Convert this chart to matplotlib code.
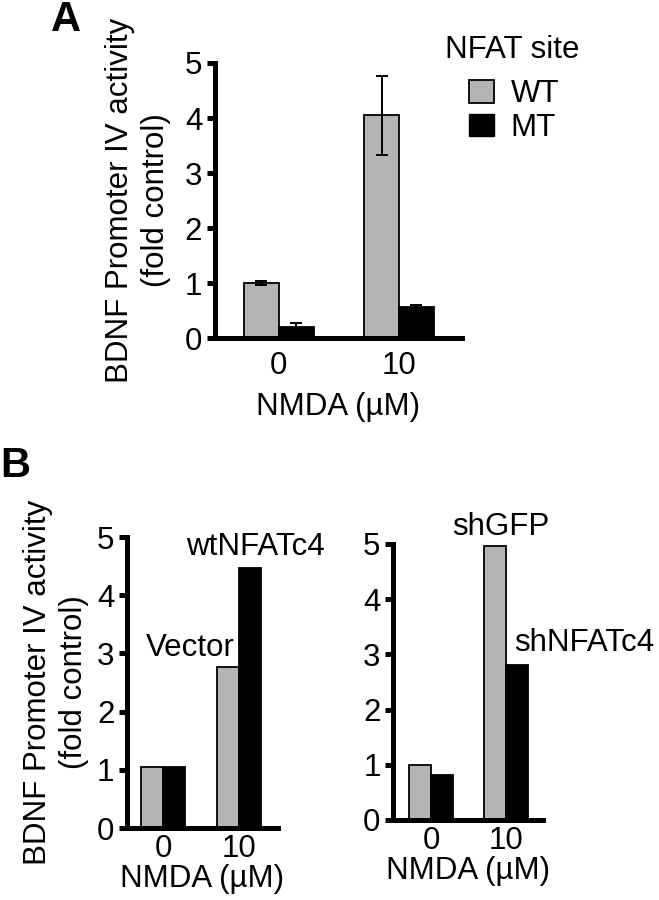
import numpy as np
import matplotlib
matplotlib.use("Agg")
import matplotlib.pyplot as plt
from matplotlib.patches import Patch

plt.rcParams['font.family'] = ['Liberation Sans', 'DejaVu Sans']

# panel A data
groups = ["0", "10"]
wt_vals = [1.0, 4.05]
wt_err = [0.04, 0.72]
mt_vals = [0.20, 0.56]
mt_err = [0.07, 0.04]

# panel B left
vector_vals = [1.05, 2.77]
wtnfat_vals = [1.04, 4.47]

# panel B right
shgfp_vals = [1.0, 4.97]
shnfat_vals = [0.82, 2.81]

GRAY = "#b4b4b4"
FS = 22.5
W = 0.29


def style_axes(ax, pad_x):
    for s in ["top", "right"]:
        ax.spines[s].set_visible(False)
    for s in ["left", "bottom"]:
        ax.spines[s].set_linewidth(3.6)
    ax.tick_params(axis="y", direction="out", length=6, width=3.6, labelsize=FS, pad=3)
    ax.tick_params(axis="x", length=0, labelsize=FS, pad=pad_x)
    ax.set_ylim(0, 5)
    ax.set_yticks([0, 1, 2, 3, 4, 5])


def pair_bars(ax, a, b, ea=None, eb=None):
    x = np.arange(len(groups))
    ekw = dict(ecolor="black", elinewidth=1.4, capsize=4, capthick=1.4)
    ax.bar(x - W / 2, a, W, color=GRAY, edgecolor="black", linewidth=1.3,
           yerr=ea, error_kw=ekw, zorder=2)
    ax.bar(x + W / 2, b, W, color="black", edgecolor="black", linewidth=1.3,
           yerr=eb, error_kw=ekw, zorder=2)
    ax.set_xticks(x)
    ax.set_xticklabels(groups)


fig = plt.figure(figsize=(6.59, 9), dpi=100)

# ---- A ----
axA = fig.add_axes([0.326, 0.6244, 0.375, 0.3056])
pair_bars(axA, wt_vals, mt_vals, wt_err, mt_err)
style_axes(axA, 9)
axA.set_xlim(-0.533, 1.525)
axA.set_xlabel("NMDA (\u00b5M)", fontsize=FS, labelpad=8)
axA.set_ylabel("BDNF Promoter IV activity\n(fold control)", fontsize=FS,
               labelpad=10, linespacing=1.25)

# legend (title drawn separately so the gap matches)
fig.text(0.777, 0.944, "NFAT site", fontsize=FS, ha="center", va="center")
handles = [Patch(facecolor=GRAY, edgecolor="black", linewidth=1.3, label="WT"),
           Patch(facecolor="black", edgecolor="black", label="MT")]
fig.legend(handles=handles, loc="upper left", bbox_to_anchor=(0.711, 0.912),
           frameon=False, fontsize=FS, handlelength=0.8, handleheight=0.75,
           handletextpad=0.55, labelspacing=0.12, borderaxespad=0, borderpad=0)
fig.text(0.078, 1 - 31 / 900, "A", fontsize=30, fontweight="bold",
         va="baseline", ha="left")

# ---- B left ----
axB1 = fig.add_axes([0.1927, 0.08, 0.229, 0.3233])
pair_bars(axB1, vector_vals, wtnfat_vals)
style_axes(axB1, 4)
axB1.set_xlim(-0.474, 1.513)
axB1.set_xlabel("NMDA (\u00b5M)", fontsize=FS, labelpad=0)
axB1.set_ylabel("BDNF Promoter IV activity\n(fold control)", fontsize=FS,
                labelpad=6, linespacing=1.25)
axB1.text(0.36, 3.1, "Vector", fontsize=FS, ha="center", va="center")
axB1.text(1.22, 4.83, "wtNFATc4", fontsize=FS, ha="center", va="center", clip_on=False)
fig.text(0.0, 1 - 477 / 900, "B", fontsize=30, fontweight="bold",
         va="baseline", ha="left")

# ---- B right ----
axB2 = fig.add_axes([0.5964, 0.0889, 0.2276, 0.3067])
pair_bars(axB2, shgfp_vals, shnfat_vals)
style_axes(axB2, 4)
axB2.set_xlim(-0.507, 1.493)
axB2.set_xlabel("NMDA (\u00b5M)", fontsize=FS, labelpad=0)
axB2.text(0.93, 5.31, "shGFP", fontsize=FS, ha="center", va="center", clip_on=False)
axB2.text(2.04, 3.2, "shNFATc4", fontsize=FS, ha="center", va="center", clip_on=False)

fig.savefig("out.png", dpi=100)
